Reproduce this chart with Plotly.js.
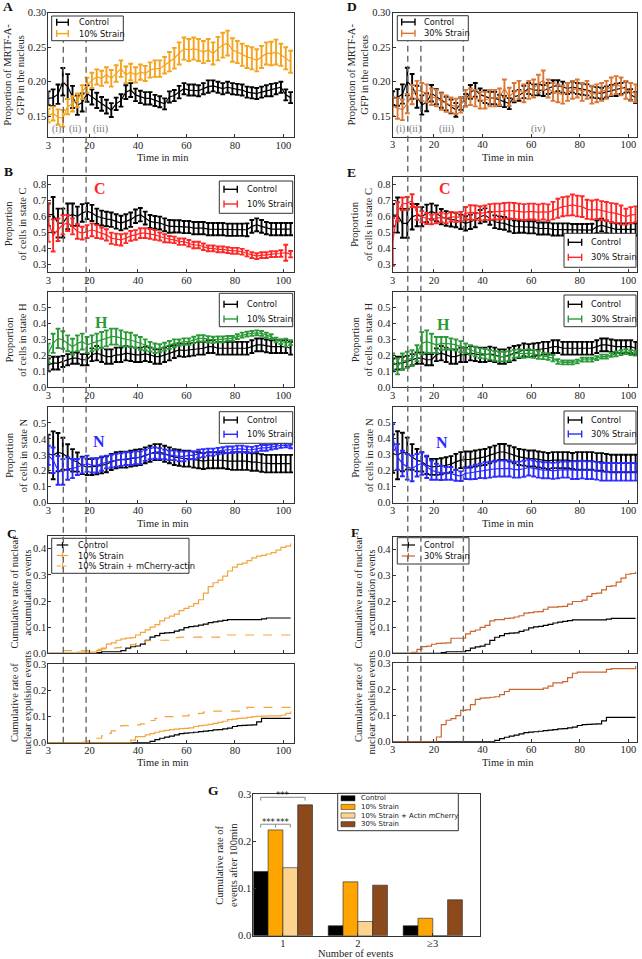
<!DOCTYPE html>
<html><head><meta charset="utf-8">
<script src="https://cdn.plot.ly/plotly-3.0.1.min.js"></script>
<style>body{margin:0;padding:0;background:#fff}#chart{width:642px;height:959px}</style>
</head><body><div id="chart"></div>
<script>
// ---------------- DATA ----------------
const T = [3,5,7,9,11,13,15,17,19,21,23,25,27,29,31,33,35,37,39,41,43,45,47,49,51,53,55,57,59,61,63,65,67,69,71,73,75,77,79,81,83,85,87,89,91,93,95,97,99,101,103];
const timeTicks = [3,20,40,60,80,100];
const phaseLeft = [9.2, 18.6];
const phaseRight = [9.2, 14.6, 32.1];

// A / D : proportion of MRTF-A-GFP in nucleus
const nucCtrl = [0.176,0.177,0.182,0.200,0.193,0.178,0.166,0.170,0.183,0.178,0.173,0.168,0.164,0.159,0.168,0.173,0.185,0.188,0.181,0.178,0.176,0.176,0.173,0.171,0.168,0.178,0.180,0.185,0.190,0.188,0.188,0.187,0.190,0.193,0.194,0.192,0.190,0.192,0.190,0.189,0.188,0.185,0.184,0.183,0.185,0.187,0.188,0.190,0.192,0.181,0.177];
const nucCtrlErr = [0.010,0.012,0.014,0.020,0.018,0.016,0.014,0.013,0.012,0.011,0.011,0.010,0.010,0.010,0.009,0.009,0.010,0.010,0.009,0.009,0.009,0.009,0.008,0.008,0.008,0.008,0.008,0.009,0.008,0.008,0.008,0.008,0.008,0.009,0.008,0.008,0.008,0.008,0.008,0.008,0.008,0.008,0.008,0.008,0.008,0.008,0.009,0.008,0.008,0.008,0.008];
const nuc10 = [0.151,0.154,0.149,0.147,0.164,0.168,0.173,0.185,0.195,0.202,0.207,0.205,0.210,0.205,0.212,0.219,0.210,0.214,0.210,0.214,0.212,0.217,0.219,0.219,0.224,0.229,0.234,0.241,0.248,0.246,0.248,0.246,0.243,0.246,0.241,0.248,0.253,0.256,0.246,0.243,0.239,0.236,0.234,0.231,0.236,0.241,0.241,0.243,0.239,0.234,0.229];
const nuc10Err = [0.010,0.010,0.011,0.012,0.011,0.011,0.010,0.010,0.011,0.011,0.011,0.011,0.011,0.012,0.012,0.012,0.012,0.012,0.011,0.011,0.011,0.011,0.012,0.012,0.012,0.014,0.015,0.016,0.016,0.016,0.016,0.016,0.016,0.016,0.016,0.017,0.018,0.018,0.017,0.016,0.016,0.016,0.016,0.016,0.016,0.016,0.017,0.018,0.016,0.016,0.016];
const nuc30 = [0.164,0.161,0.159,0.168,0.181,0.188,0.185,0.183,0.178,0.176,0.171,0.168,0.166,0.164,0.166,0.176,0.178,0.176,0.173,0.173,0.176,0.176,0.178,0.190,0.178,0.185,0.188,0.183,0.188,0.190,0.197,0.202,0.190,0.185,0.183,0.181,0.185,0.188,0.190,0.185,0.188,0.181,0.183,0.185,0.188,0.193,0.195,0.193,0.188,0.185,0.183];
const nuc30Err = [0.014,0.015,0.015,0.014,0.014,0.013,0.013,0.013,0.012,0.012,0.012,0.012,0.011,0.011,0.011,0.012,0.012,0.012,0.012,0.012,0.012,0.012,0.012,0.013,0.013,0.013,0.013,0.013,0.013,0.013,0.013,0.014,0.013,0.013,0.013,0.013,0.013,0.013,0.013,0.013,0.013,0.013,0.013,0.013,0.013,0.013,0.013,0.013,0.013,0.013,0.013];

// B / E : proportion of cells in states C, H, N
const stCCtrl = [0.609,0.609,0.557,0.557,0.599,0.609,0.599,0.620,0.631,0.620,0.599,0.588,0.582,0.578,0.567,0.557,0.567,0.578,0.599,0.609,0.588,0.567,0.561,0.557,0.546,0.536,0.536,0.536,0.532,0.532,0.525,0.525,0.525,0.519,0.519,0.519,0.519,0.515,0.515,0.515,0.515,0.515,0.536,0.546,0.536,0.525,0.519,0.519,0.519,0.519,0.519];
const stCCtrlErr = [0.07,0.11,0.09,0.09,0.08,0.07,0.06,0.055,0.05,0.05,0.048,0.046,0.045,0.045,0.045,0.045,0.045,0.045,0.042,0.042,0.04,0.04,0.04,0.04,0.04,0.04,0.038,0.038,0.038,0.038,0.038,0.038,0.038,0.038,0.038,0.038,0.038,0.038,0.038,0.038,0.038,0.04,0.04,0.04,0.04,0.038,0.038,0.038,0.038,0.038,0.038];
const stC10 = [0.560,0.480,0.515,0.546,0.557,0.536,0.504,0.494,0.504,0.515,0.504,0.494,0.483,0.462,0.456,0.452,0.462,0.477,0.483,0.494,0.494,0.489,0.483,0.473,0.462,0.456,0.452,0.441,0.441,0.431,0.420,0.420,0.409,0.399,0.399,0.393,0.393,0.388,0.384,0.384,0.378,0.367,0.357,0.351,0.357,0.357,0.363,0.363,0.367,0.372,0.363];
const stC10Err = [0.12,0.10,0.07,0.06,0.05,0.05,0.045,0.04,0.04,0.04,0.04,0.035,0.035,0.035,0.035,0.035,0.03,0.03,0.03,0.03,0.03,0.03,0.03,0.025,0.025,0.02,0.02,0.02,0.02,0.02,0.02,0.02,0.02,0.018,0.018,0.018,0.018,0.018,0.018,0.018,0.018,0.018,0.018,0.018,0.018,0.018,0.018,0.018,0.02,0.05,0.02];
const stHCtrl = [0.141,0.152,0.152,0.162,0.173,0.183,0.183,0.173,0.173,0.204,0.214,0.204,0.193,0.193,0.204,0.204,0.214,0.210,0.204,0.204,0.210,0.204,0.193,0.193,0.204,0.214,0.224,0.235,0.231,0.235,0.239,0.245,0.245,0.255,0.255,0.245,0.245,0.245,0.245,0.245,0.245,0.245,0.255,0.266,0.266,0.260,0.255,0.255,0.255,0.255,0.245];
const stHCtrlErr = [0.04,0.04,0.04,0.035,0.035,0.035,0.035,0.035,0.035,0.04,0.045,0.045,0.045,0.045,0.045,0.045,0.045,0.045,0.045,0.045,0.045,0.045,0.045,0.045,0.045,0.045,0.04,0.04,0.04,0.04,0.04,0.04,0.04,0.04,0.04,0.04,0.04,0.04,0.04,0.04,0.04,0.04,0.04,0.04,0.04,0.04,0.04,0.04,0.04,0.04,0.04];
const stH10 = [0.214,0.276,0.307,0.297,0.276,0.255,0.276,0.287,0.266,0.276,0.287,0.297,0.307,0.318,0.318,0.307,0.301,0.297,0.287,0.276,0.266,0.255,0.245,0.245,0.255,0.266,0.276,0.280,0.287,0.287,0.297,0.307,0.307,0.301,0.297,0.301,0.301,0.307,0.307,0.318,0.328,0.334,0.338,0.342,0.338,0.328,0.318,0.297,0.287,0.280,0.280];
const stH10Err = [0.06,0.06,0.06,0.055,0.05,0.05,0.05,0.05,0.05,0.05,0.05,0.05,0.05,0.05,0.05,0.05,0.045,0.045,0.04,0.04,0.035,0.03,0.03,0.025,0.025,0.025,0.025,0.02,0.02,0.02,0.02,0.02,0.02,0.02,0.02,0.018,0.018,0.015,0.015,0.015,0.015,0.015,0.015,0.015,0.015,0.015,0.015,0.015,0.015,0.025,0.015];
const stNCtrl = [0.307,0.297,0.317,0.307,0.286,0.266,0.255,0.234,0.224,0.224,0.228,0.234,0.241,0.255,0.266,0.270,0.270,0.276,0.282,0.286,0.297,0.307,0.317,0.317,0.307,0.297,0.286,0.282,0.276,0.276,0.270,0.266,0.261,0.266,0.266,0.266,0.266,0.261,0.261,0.261,0.261,0.261,0.255,0.255,0.249,0.245,0.245,0.245,0.245,0.245,0.245];
const stNCtrlErr = [0.12,0.15,0.12,0.10,0.08,0.07,0.06,0.055,0.05,0.05,0.05,0.05,0.05,0.05,0.05,0.05,0.05,0.05,0.05,0.05,0.05,0.05,0.05,0.05,0.05,0.05,0.05,0.05,0.05,0.05,0.05,0.05,0.05,0.05,0.05,0.05,0.05,0.05,0.055,0.055,0.055,0.055,0.055,0.055,0.055,0.055,0.055,0.055,0.055,0.055,0.055];
const stN10 = [0.297,0.266,0.203,0.193,0.214,0.214,0.224,0.234,0.245,0.234,0.234,0.245,0.255,0.261,0.266,0.270,0.276,0.276,0.282,0.282,0.297,0.307,0.311,0.307,0.303,0.297,0.297,0.290,0.290,0.297,0.297,0.307,0.311,0.317,0.317,0.324,0.328,0.332,0.332,0.338,0.338,0.332,0.332,0.338,0.344,0.344,0.349,0.353,0.359,0.359,0.353];
const stN10Err = [0.06,0.08,0.09,0.08,0.07,0.06,0.05,0.05,0.05,0.045,0.045,0.045,0.04,0.04,0.04,0.04,0.04,0.04,0.04,0.04,0.035,0.035,0.035,0.035,0.03,0.03,0.03,0.03,0.03,0.025,0.025,0.025,0.025,0.022,0.022,0.02,0.02,0.02,0.02,0.02,0.02,0.02,0.018,0.018,0.018,0.018,0.015,0.015,0.015,0.012,0.012];
const stC30 = [0.441,0.630,0.679,0.683,0.700,0.620,0.599,0.588,0.582,0.588,0.595,0.588,0.599,0.595,0.599,0.620,0.626,0.624,0.620,0.624,0.628,0.631,0.631,0.635,0.637,0.635,0.631,0.628,0.631,0.631,0.626,0.631,0.626,0.637,0.652,0.662,0.666,0.673,0.666,0.662,0.645,0.641,0.645,0.637,0.631,0.624,0.620,0.609,0.599,0.609,0.614];
const stC30Err = [0.15,0.06,0.04,0.04,0.04,0.04,0.035,0.035,0.03,0.03,0.03,0.03,0.03,0.03,0.03,0.04,0.045,0.045,0.045,0.045,0.05,0.05,0.05,0.05,0.05,0.05,0.05,0.05,0.05,0.05,0.05,0.05,0.05,0.055,0.06,0.06,0.06,0.065,0.065,0.065,0.06,0.06,0.06,0.06,0.06,0.06,0.06,0.06,0.05,0.05,0.05];
const stH30 = [0.162,0.131,0.162,0.173,0.183,0.214,0.276,0.287,0.276,0.266,0.276,0.276,0.272,0.266,0.255,0.245,0.235,0.224,0.214,0.210,0.204,0.197,0.193,0.193,0.197,0.210,0.214,0.210,0.214,0.210,0.204,0.197,0.193,0.183,0.162,0.156,0.156,0.156,0.162,0.173,0.173,0.173,0.183,0.193,0.193,0.204,0.210,0.218,0.224,0.218,0.214];
const stH30Err = [0.05,0.05,0.05,0.05,0.05,0.05,0.07,0.07,0.06,0.05,0.04,0.04,0.035,0.035,0.035,0.03,0.03,0.03,0.03,0.03,0.03,0.03,0.03,0.03,0.03,0.025,0.025,0.025,0.025,0.025,0.025,0.02,0.02,0.02,0.015,0.012,0.012,0.012,0.012,0.012,0.012,0.012,0.012,0.012,0.012,0.012,0.015,0.015,0.015,0.015,0.015];
const stN30 = [0.411,0.286,0.245,0.224,0.214,0.234,0.245,0.224,0.203,0.193,0.187,0.183,0.183,0.172,0.166,0.183,0.187,0.193,0.199,0.203,0.207,0.212,0.214,0.214,0.214,0.207,0.207,0.212,0.220,0.214,0.207,0.203,0.203,0.199,0.203,0.207,0.207,0.203,0.203,0.207,0.203,0.203,0.199,0.193,0.193,0.193,0.193,0.193,0.193,0.193,0.193];
const stN30Err = [0.08,0.08,0.08,0.08,0.08,0.07,0.07,0.07,0.06,0.05,0.045,0.04,0.04,0.035,0.03,0.035,0.04,0.045,0.045,0.05,0.05,0.05,0.05,0.05,0.05,0.05,0.05,0.05,0.05,0.05,0.05,0.05,0.05,0.05,0.05,0.05,0.05,0.055,0.055,0.055,0.055,0.055,0.055,0.055,0.055,0.055,0.055,0.055,0.055,0.055,0.055];

// C / F : cumulative rates
const accCtrl = [0,0,0,0,0,0,0,0,0,0,0.003,0.006,0.006,0.006,0.006,0.010,0.020,0.025,0.028,0.035,0.050,0.062,0.068,0.076,0.078,0.079,0.085,0.090,0.098,0.102,0.104,0.108,0.112,0.117,0.120,0.123,0.126,0.129,0.129,0.129,0.129,0.129,0.129,0.129,0.132,0.135,0.135,0.135,0.135,0.135,0.135];
const acc10 = [0,0,0,0,0,0,0.005,0.005,0.005,0.005,0.010,0.020,0.035,0.040,0.050,0.055,0.058,0.060,0.070,0.080,0.090,0.100,0.110,0.124,0.135,0.142,0.150,0.163,0.172,0.180,0.190,0.205,0.230,0.255,0.270,0.280,0.295,0.315,0.330,0.340,0.345,0.355,0.365,0.372,0.375,0.380,0.385,0.395,0.405,0.410,0.420];
const acc10m = [null,null,null,0.010,0.010,0.010,0.010,0.010,0.010,0.012,0.015,0.017,0.018,0.020,0.022,0.025,0.030,0.033,0.037,0.042,0.048,0.050,0.050,0.050,0.050,0.050,0.060,0.062,0.062,0.062,0.062,0.062,0.062,0.062,0.062,0.062,0.062,0.070,0.070,0.070,0.070,0.070,0.070,0.070,0.070,0.070,0.070,0.070,0.070,0.070,0.070];
const expCtrl = [0,0,0,0,0,0,0,0,0,0,0,0,0,0,0,0,0,0,0,0,0,0.005,0.012,0.017,0.021,0.025,0.030,0.035,0.037,0.038,0.040,0.042,0.044,0.046,0.049,0.050,0.053,0.056,0.062,0.065,0.066,0.067,0.068,0.080,0.093,0.093,0.093,0.093,0.093,0.093,0.093];
const exp10 = [0,0,0,0,0,0,0,0,0,0,0,0,0,0,0,0,0,0.010,0.023,0.023,0.030,0.035,0.040,0.044,0.047,0.050,0.052,0.054,0.055,0.057,0.062,0.065,0.067,0.070,0.074,0.078,0.082,0.088,0.090,0.093,0.094,0.097,0.100,0.101,0.102,0.103,0.103,0.103,0.105,0.112,0.120];
const exp10m = [null,null,null,null,null,null,null,0.002,0.006,0.012,0.017,0.026,0.036,0.045,0.055,0.065,0.065,0.065,0.068,0.072,0.077,0.085,0.093,0.095,0.100,0.100,0.103,0.103,0.103,0.108,0.110,0.112,0.117,0.121,0.121,0.121,0.121,0.121,0.121,0.121,0.121,0.135,0.135,0.135,0.135,0.135,0.135,0.135,0.135,0.135,0.135];
const acc30 = [0,0,0,0,0.004,0.015,0.026,0.028,0.035,0.038,0.039,0.040,0.058,0.058,0.058,0.075,0.085,0.090,0.100,0.108,0.125,0.130,0.130,0.135,0.136,0.140,0.145,0.155,0.157,0.160,0.161,0.170,0.178,0.178,0.180,0.181,0.190,0.200,0.200,0.205,0.220,0.230,0.232,0.245,0.258,0.260,0.275,0.290,0.305,0.308,0.315];
const exp30 = [0,0,0,0,0,0,0,0,0,0.018,0.065,0.082,0.088,0.100,0.120,0.122,0.142,0.162,0.167,0.168,0.170,0.172,0.180,0.192,0.200,0.200,0.200,0.200,0.200,0.200,0.200,0.205,0.213,0.225,0.225,0.230,0.245,0.262,0.266,0.266,0.266,0.266,0.266,0.266,0.277,0.280,0.280,0.280,0.280,0.280,0.290];

// G : bar chart
const gCats = ['1','2','≥3'];
const gControl = [0.136,0.021,0.021];
const g10 = [0.224,0.114,0.037];
const g10m = [0.144,0.030,0];
const g30 = [0.277,0.107,0.076];
const gNames = ['Control','10% Strain','10% Strain + Actin mCherry','30% Strain'];

// ---------------- STYLE / LAYOUT ----------------
const W = 642, H = 959;
const fx = x => x / W, fy = y => 1 - y / H;
const C = {ctrl:'#000000', o10:'#f5a21c', o30:'#dc7634', red:'#ff2626', green:'#2a9a36', blue:'#2a2aff',
           co:'#f3a53c', cf:'#c9662c', g10:'#ffa500', g10m:'#fcd48e', g30:'#8c4a1c', dash:'#666666'};
const SERIF = 'Liberation Serif', SANS = 'DejaVu Sans';

const panels = [
  {x:[48.3,294], y:[12.7,137],   xr:[3,104.4], yr:[0.12,0.30], yt:[0.15,0.20,0.25,0.30], yf:'.2f', xl:true},
  {x:[48.3,294], y:[176,272.3],  xr:[3,104.4], yr:[0.25,0.85], yt:[0.3,0.4,0.5,0.6,0.7,0.8], yf:'.1f', xl:true},
  {x:[48.3,294], y:[291.7,387.3],xr:[3,104.4], yr:[0,0.6], yt:[0,0.1,0.2,0.3,0.4,0.5], yf:'.1f', xl:true},
  {x:[48.3,294], y:[407,502.7],  xr:[3,104.4], yr:[0,0.6], yt:[0,0.1,0.2,0.3,0.4,0.5], yf:'.1f', xl:true},
  {x:[48.3,294], y:[535.7,653.3],xr:[3,104.4], yr:[0,0.45], yt:[0,0.1,0.2,0.3,0.4], yf:'.1f', xl:false},
  {x:[48.3,294], y:[664.3,742.7],xr:[3,104.4], yr:[0,0.3], yt:[0,0.1,0.2,0.3], yf:'.1f', xl:true},
  {x:[392.7,637.3], y:[12.7,136.7], xr:[3,103.7], yr:[0.12,0.30], yt:[0.15,0.20,0.25,0.30], yf:'.2f', xl:true},
  {x:[392.7,637.3], y:[176.7,272.3],xr:[3,103.7], yr:[0.25,0.85], yt:[0.3,0.4,0.5,0.6,0.7,0.8], yf:'.1f', xl:true},
  {x:[392.7,637.3], y:[291.7,387.3],xr:[3,103.7], yr:[0,0.6], yt:[0,0.1,0.2,0.3,0.4,0.5], yf:'.1f', xl:true},
  {x:[392.7,637.3], y:[406.7,502.7],xr:[3,103.7], yr:[0,0.6], yt:[0,0.1,0.2,0.3,0.4,0.5], yf:'.1f', xl:true},
  {x:[392.7,637.3], y:[536.7,653.3],xr:[3,103.7], yr:[0,0.45], yt:[0,0.1,0.2,0.3,0.4], yf:'.1f', xl:false},
  {x:[392.7,637.3], y:[663.3,741.7],xr:[3,103.7], yr:[0,0.3], yt:[0,0.1,0.2,0.3], yf:'.1f', xl:true},
  {x:[253.3,480], y:[794,935.7], xr:[-0.395,2.63], yr:[0,0.3], yt:[0,0.1,0.2,0.3], yf:'.1f', xl:true, cat:true}
];

const layout = {
  width: W, height: H, margin:{l:0,r:0,t:0,b:0}, paper_bgcolor:'#fff', plot_bgcolor:'#fff',
  showlegend:false, font:{family:SERIF, size:10, color:'#222'},
  barmode:'group', bargap:0.21, bargroupgap:0,
  shapes:[], annotations:[]
};
const tickFont = {family:SERIF, size:10.5, color:'#222'};
panels.forEach((p,i) => {
  const k = i===0 ? '' : String(i+1);
  const xa = {domain:[fx(p.x[0]), fx(p.x[1])], range:p.xr, anchor:'y'+k, showgrid:false, zeroline:false,
    showline:true, mirror:true, linecolor:'#333', linewidth:1, ticks:'inside', ticklen:3, tickcolor:'#333',
    tickfont:tickFont, showticklabels:p.xl, fixedrange:true, ticklabelstandoff:-2};
  if (p.cat) { xa.type = 'category'; }
  else { xa.tickmode = 'array'; xa.tickvals = timeTicks; xa.ticktext = timeTicks.map(String); }
  const ya = {domain:[fy(p.y[1]), fy(p.y[0])], range:p.yr, anchor:'x'+k, showgrid:false, zeroline:false,
    showline:true, mirror:true, linecolor:'#333', linewidth:1, ticks:'inside', ticklen:3, tickcolor:'#333',
    tickmode:'array', tickvals:p.yt, tickformat:p.yf, tickfont:tickFont, fixedrange:true, ticklabelstandoff:-1};
  layout['xaxis'+k] = xa; layout['yaxis'+k] = ya;
});

const ref = n => n===1 ? '' : String(n);
const traces = [];
function ts(n, y, err, color) {
  traces.push({type:'scatter', mode:'lines', x:T, y:y, xaxis:'x'+ref(n), yaxis:'y'+ref(n),
    line:{color:color, width:1.2}, hoverinfo:'skip',
    error_y:{type:'data', array:err, visible:true, color:color, thickness:1.9, width:2.4}});
}
function step(n, y, color, dash) {
  traces.push({type:'scatter', mode:'lines', x:T, y:y, xaxis:'x'+ref(n), yaxis:'y'+ref(n),
    line:{color:color, width:1.2, shape:'hv', dash:dash||'solid'}, connectgaps:false, hoverinfo:'skip'});
}
// A
ts(1, nucCtrl, nucCtrlErr, C.ctrl); ts(1, nuc10, nuc10Err, C.o10);
// B
ts(2, stCCtrl, stCCtrlErr, C.ctrl); ts(2, stC10, stC10Err, C.red);
ts(3, stHCtrl, stHCtrlErr, C.ctrl); ts(3, stH10, stH10Err, C.green);
ts(4, stNCtrl, stNCtrlErr, C.ctrl); ts(4, stN10, stN10Err, C.blue);
// C
step(5, accCtrl, C.ctrl); step(5, acc10, C.co); step(5, acc10m, C.co, 'dash');
step(6, expCtrl, C.ctrl); step(6, exp10, C.co); step(6, exp10m, C.co, 'dash');
// D
ts(7, nucCtrl, nucCtrlErr, C.ctrl); ts(7, nuc30, nuc30Err, C.o30);
// E
ts(8, stCCtrl, stCCtrlErr, C.ctrl); ts(8, stC30, stC30Err, C.red);
ts(9, stHCtrl, stHCtrlErr, C.ctrl); ts(9, stH30, stH30Err, C.green);
ts(10, stNCtrl, stNCtrlErr, C.ctrl); ts(10, stN30, stN30Err, C.blue);
// F
step(11, accCtrl, C.ctrl); step(11, acc30, C.cf);
step(12, expCtrl, C.ctrl); step(12, exp30, C.cf);
// G
[[gControl,C.ctrl],[g10,C.g10],[g10m,C.g10m],[g30,C.g30]].forEach((s,i) => {
  traces.push({type:'bar', x:gCats, y:s[0], name:gNames[i], xaxis:'x13', yaxis:'y13',
    marker:{color:s[1], line:{color:'#222', width:0.6}}, hoverinfo:'skip'});
});

// ---------- helpers for annotations / shapes ----------
function txt(t, x, y, o) {
  o = o || {};
  layout.annotations.push(Object.assign({text:t, xref:'paper', yref:'paper', x:fx(x), y:fy(y), showarrow:false,
    xanchor:'center', yanchor:'middle', font:{family:SERIF, size:10.5, color:'#222'}}, o));
}
function pline(x0,y0,x1,y1,color,width,dash) {
  layout.shapes.push({type:'line', xref:'paper', yref:'paper', x0:fx(x0), y0:fy(y0), x1:fx(x1), y1:fy(y1),
    line:{color:color, width:width||1.3, dash:dash||'solid'}, layer:'above'});
}
function legend(box, ix, tx, entries, fs) {
  layout.shapes.push({type:'rect', xref:'paper', yref:'paper', x0:fx(box[0]), y0:fy(box[3]), x1:fx(box[2]), y1:fy(box[1]),
    line:{color:'#333', width:1}, fillcolor:'#fff', layer:'above'});
  entries.forEach(e => {
    if (e.icon === 'err') {
      pline(ix[0], e.y, ix[1], e.y, e.c, 1.4);
      pline(ix[0], e.y-3.5, ix[0], e.y+3.5, e.c, 1.4);
      pline(ix[1], e.y-3.5, ix[1], e.y+3.5, e.c, 1.4);
    } else if (e.icon === 'plus' || e.icon === 'plusdash') {
      pline(ix[0], e.y, ix[1], e.y, e.c, 1.2, e.icon === 'plusdash' ? '4px,2px' : 'solid');
      const m = (ix[0]+ix[1])/2;
      pline(m, e.y-3, m, e.y+3, e.c, 1.2);
    } else if (e.icon === 'rect') {
      layout.shapes.push({type:'rect', xref:'paper', yref:'paper', x0:fx(ix[0]), x1:fx(ix[1]), y0:fy(e.y+2.6), y1:fy(e.y-2.6),
        fillcolor:e.c, line:{color:'#222', width:0.5}, layer:'above'});
    }
    txt(e.label, tx, e.y, {xanchor:'left', font:{family:SANS, size:fs, color:'#111'}});
  });
}

// legends
const LF = 8.3;
legend([51.7,16,123.3,40.7], [56.7,68.3], 76.5, [{y:22.3,c:C.ctrl,label:'Control',icon:'err'},{y:33.6,c:C.o10,label:'10% Strain',icon:'err'}], LF);
legend([219.3,181,292.7,213.3], [224,237.3], 245, [{y:189.3,c:C.ctrl,label:'Control',icon:'err'},{y:204,c:C.red,label:'10% Strain',icon:'err'}], LF);
legend([219.3,293.3,292.7,326.7], [224,237.3], 245, [{y:304.3,c:C.ctrl,label:'Control',icon:'err'},{y:319,c:C.green,label:'10% Strain',icon:'err'}], LF);
legend([219.3,411.7,292.7,443.3], [224,237.3], 245, [{y:420,c:C.ctrl,label:'Control',icon:'err'},{y:434.3,c:C.blue,label:'10% Strain',icon:'err'}], LF);
legend([51.7,538.3,189,573.3], [56.7,68.3], 76, [{y:545,c:C.ctrl,label:'Control',icon:'plus'},{y:555.5,c:C.co,label:'10% Strain',icon:'plus'},{y:566,c:C.co,label:'10% Strain + mCherry-actin',icon:'plusdash'}], LF);
legend([397.3,15.7,468.3,40.7], [401.7,415], 421.7, [{y:22,c:C.ctrl,label:'Control',icon:'err'},{y:33.3,c:C.o30,label:'30% Strain',icon:'err'}], LF);
legend([564,233.3,636,267.3], [568.3,581.7], 589.3, [{y:242.3,c:C.ctrl,label:'Control',icon:'err'},{y:257.3,c:C.red,label:'30% Strain',icon:'err'}], LF);
legend([564,295,636,326.7], [568.3,581.7], 589.3, [{y:304.3,c:C.ctrl,label:'Control',icon:'err'},{y:319,c:C.green,label:'30% Strain',icon:'err'}], LF);
legend([564,411,636,444], [568.3,581.7], 589.3, [{y:420,c:C.ctrl,label:'Control',icon:'err'},{y:434,c:C.blue,label:'30% Strain',icon:'err'}], LF);
legend([397.3,537.7,469,564], [401.7,415], 421.7, [{y:545,c:C.ctrl,label:'Control',icon:'plus'},{y:556,c:C.cf,label:'30% Strain',icon:'plus'}], LF);
legend([337.7,793.3,458.3,830.7], [341,355], 359.3, gNames.map((nm,i)=>({y:[798.3,806.9,815.5,824.2][i], c:[C.ctrl,C.g10,C.g10m,C.g30][i], label:nm, icon:'rect'})), 6.9);

// dashed phase lines (tied to the time axes)
phaseLeft.forEach(t => layout.shapes.push({type:'line', xref:'x', yref:'paper', x0:t, x1:t, y0:fy(742.7), y1:fy(40.7),
  line:{color:C.dash, width:1.4, dash:'6px,4px'}, layer:'above'}));
phaseRight.forEach(t => layout.shapes.push({type:'line', xref:'x7', yref:'paper', x0:t, x1:t, y0:fy(741.7), y1:fy(40.7),
  line:{color:C.dash, width:1.4, dash:'6px,4px'}, layer:'above'}));

// G significance brackets (bar centres from group geometry)
const bw = (1 - layout.bargap) / 4;
const bc = k => (k - 1.5) * bw;
function gline(x0,y0,x1,y1){ layout.shapes.push({type:'line', xref:'x13', yref:'y13', x0:x0,y0:y0,x1:x1,y1:y1, line:{color:'#888',width:1}, layer:'above'}); }
gline(bc(0),0.286,bc(0),0.293); gline(bc(0),0.293,bc(3),0.293); gline(bc(3),0.293,bc(3),0.286);
gline(bc(0),0.236,bc(2),0.236); gline(bc(0),0.236,bc(0),0.229); gline(bc(1),0.236,bc(1),0.229); gline(bc(2),0.236,bc(2),0.229);
[[ (bc(0)+bc(3))/2, 0.298 ], [ (bc(0)+bc(1))/2, 0.2415 ], [ (bc(1)+bc(2))/2, 0.2415 ]].forEach(p =>
  layout.annotations.push({text:'***', xref:'x13', yref:'y13', x:p[0], y:p[1], showarrow:false, yanchor:'middle',
    font:{family:SANS, size:8.5, color:'#111'}}));

// axis titles
const ytitle = (t, x, y) => txt(t, x, y, {textangle:-90, font:{family:SERIF, size:10.5, color:'#222'}});
ytitle('Proportion of MRTF-A-<br>GFP in the nucleus', 13.7, 75);
ytitle('Proportion<br>of cells in state C', 16.3, 224);
ytitle('Proportion<br>of cells in state H', 16.3, 339.5);
ytitle('Proportion<br>of cells in state N', 16.3, 455);
ytitle('Cumulative rate of nuclear<br>accumulation events', 20.5, 592);
ytitle('Cumulative rate of<br>nuclear expulsion events', 20.5, 703);
ytitle('Proportion of MRTF-A-<br>GFP in the nucleus', 357.5, 75);
ytitle('Proportion<br>of cells in state C', 362, 224);
ytitle('Proportion<br>of cells in state H', 362, 339.5);
ytitle('Proportion<br>of cells in state N', 362, 455);
ytitle('Cumulative rate of nuclear<br>accumulation events', 364.5, 592);
ytitle('Cumulative rate of<br>nuclear expulsion events', 364.5, 703);
ytitle('Cumulative rate of<br>events after 100min', 226, 865);
const xt = {font:{family:SERIF, size:10.5, color:'#222'}};
txt('Time in min', 163, 157, xt); txt('Time in min', 507.5, 157, xt);
txt('Time in min', 162.5, 523.5, xt); txt('Time in min', 508.5, 523.5, xt);
txt('Time in min', 163, 762, xt); txt('Time in min', 507.5, 762, xt);
txt('Number of events', 355.8, 953.5, xt);

// panel letters
const bold = {family:SERIF, size:13.5, color:'#111'};
[['A',8,7],['B',8,171],['C',12,533],['D',352,7],['E',352,172],['F',355,532],['G',213,790]].forEach(l =>
  txt('<b>'+l[0]+'</b>', l[1], l[2], {font:bold}));
// state letters
[['C',C.red,100,189],['H',C.green,101,322.5],['N',C.blue,99,441],['C',C.red,445,189],['H',C.green,443,325],['N',C.blue,442,442]].forEach(l =>
  txt('<b>'+l[0]+'</b>', l[2], l[3], {font:{family:SERIF, size:16, color:l[1]}}));
// phase numerals
const rom = {family:SERIF, size:10, color:'#777'};
[['(i)',56,129],['(ii)',75.3,129],['(iii)',100.7,129],['(i)',400,129],['(ii)',415,129],['(iii)',446,129],['(iv)',538.3,129]].forEach(r =>
  txt(r[0], r[1], r[2], {font:rom}));

Plotly.newPlot('chart', traces, layout, {displayModeBar:false, staticPlot:true});
</script>
</body></html>
